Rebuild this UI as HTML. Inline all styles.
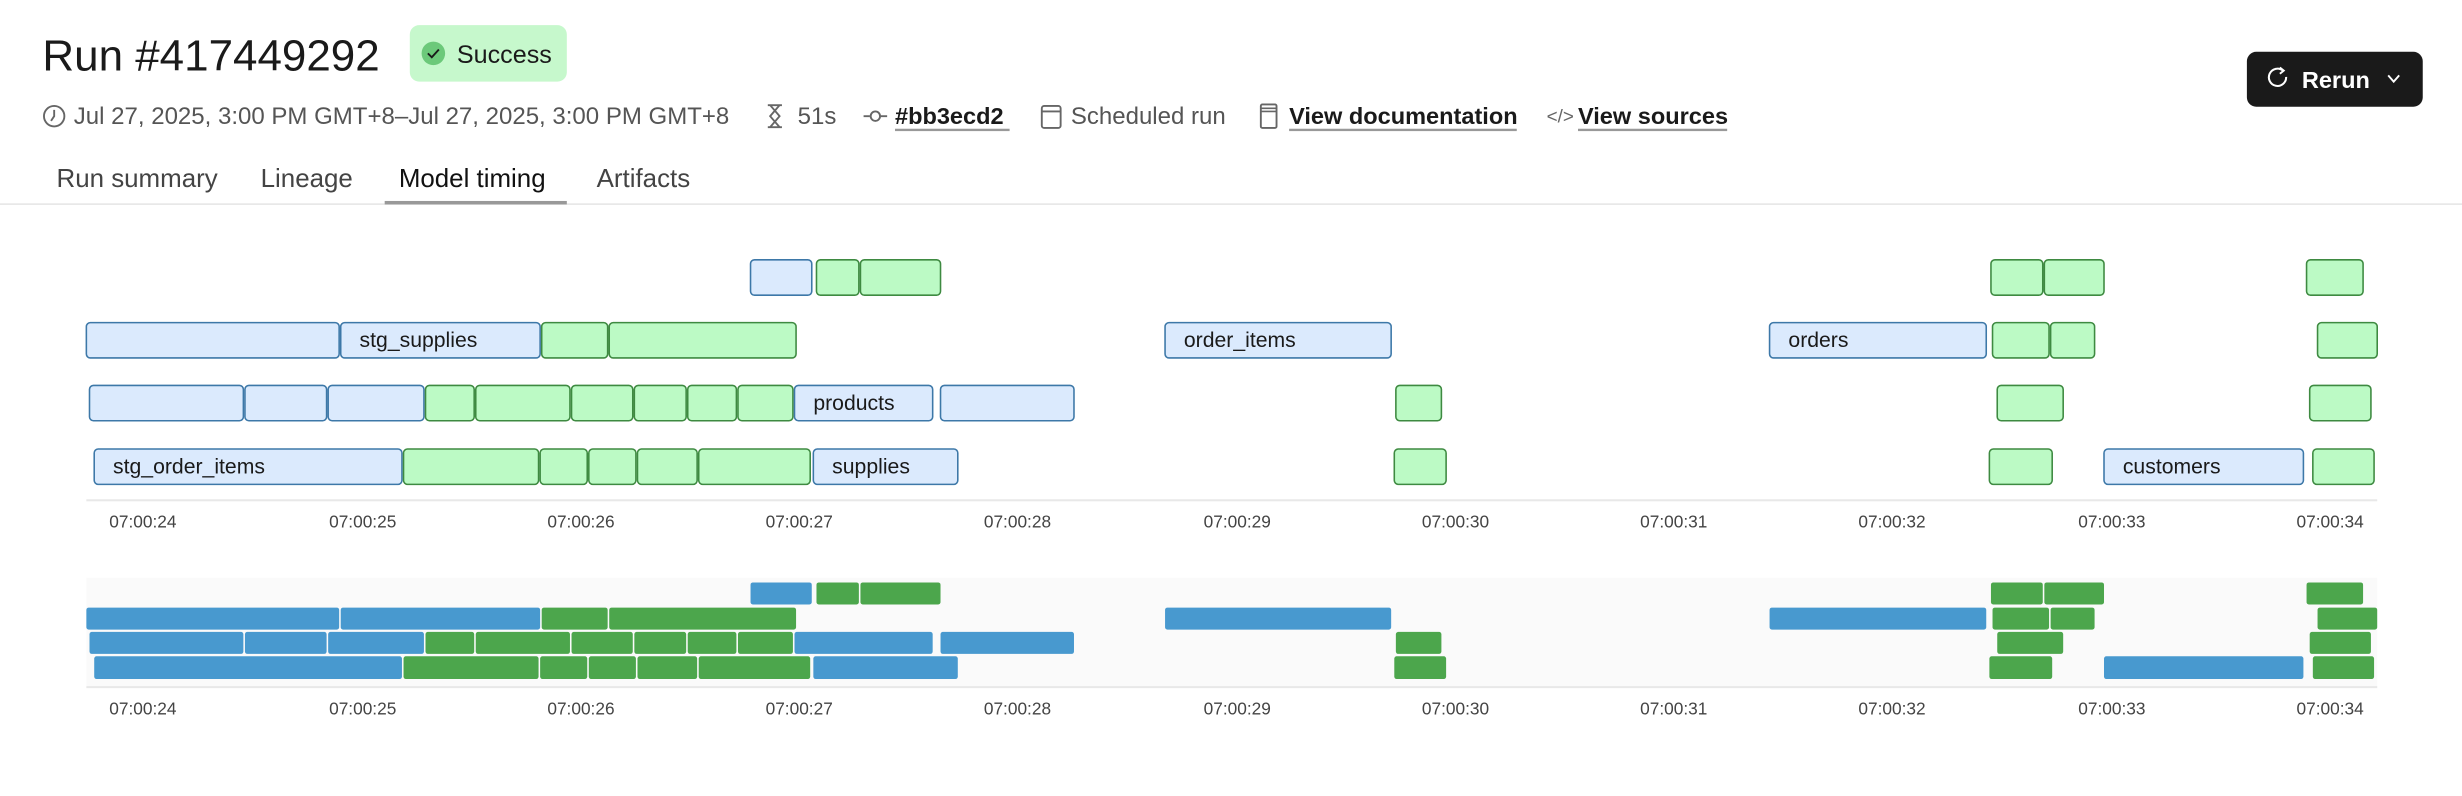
<!DOCTYPE html>
<html><head><meta charset="utf-8"><style>
html,body{margin:0;padding:0;background:#fff;width:2462px;height:796px;overflow:hidden}
svg{display:block}
text{font-family:"Liberation Sans",sans-serif}
.b{fill:#dbeafd;stroke:#3d78a8;stroke-width:1}
.g{fill:#bcfac5;stroke:#3e8a41;stroke-width:1}
.mb{fill:#4899cf}
.mg{fill:#4ca64c}
.lbl{font-size:13.5px;fill:#1a1a1a}
.tk{font-size:11px;fill:#444}
.meta{font-size:15.3px;fill:#555}
.lnk{font-size:15px;fill:#1a1a1a;font-weight:bold}
.tab{font-size:16.5px;fill:#444}
</style></head><body>
<svg width="2462" height="796" viewBox="0 0 1568 507" preserveAspectRatio="none">
<!-- header -->
<text x="27" y="45" font-size="28" fill="#1a1a1a">Run #417449292</text>
<rect x="261" y="16" width="100" height="36" rx="6" fill="#c6f8cc"/>
<circle cx="276" cy="34" r="7.5" fill="#6cc97a"/>
<path d="M272.5 34 l2.5 2.5 l4.5 -5" fill="none" stroke="#1a1a1a" stroke-width="1.2"/>
<text x="291" y="40" font-size="16" fill="#1a1a1a">Success</text>

<circle cx="34.5" cy="74" r="6.5" fill="none" stroke="#666" stroke-width="1.2"/>
<path d="M34.5 70 v4 l-2 3" fill="none" stroke="#666" stroke-width="1.2"/>
<text x="47" y="79" class="meta">Jul 27, 2025, 3:00 PM GMT+8–Jul 27, 2025, 3:00 PM GMT+8</text>
<path d="M489 67 h9 M489 81 h9 M490.5 67 l6 7 l-6 7 M496.5 67 l-6 7 l6 7" fill="none" stroke="#666" stroke-width="1.2"/>
<text x="508" y="79" class="meta">51s</text>
<path d="M550 74 h4 M561 74 h4" stroke="#666" stroke-width="1.2"/>
<circle cx="557.5" cy="74" r="3" fill="none" stroke="#666" stroke-width="1.2"/>
<text x="570" y="79" class="lnk">#bb3ecd2</text>
<rect x="570" y="82" width="73" height="1.5" fill="#999"/>
<rect x="663.5" y="67.5" width="12" height="14" rx="1.5" fill="none" stroke="#666" stroke-width="1.2"/>
<path d="M663.5 71 h12" stroke="#666" stroke-width="1.2"/>
<text x="682" y="79" class="meta">Scheduled run</text>
<rect x="803" y="66.5" width="10" height="15" rx="1" fill="none" stroke="#666" stroke-width="1.2"/>
<path d="M803 69 h10 M803 71 h10" stroke="#666" stroke-width="1"/>
<text x="821" y="79" class="lnk">View documentation</text>
<rect x="821" y="82" width="145" height="1.5" fill="#999"/>
<text x="985" y="78" font-size="12" fill="#666">&lt;/&gt;</text>
<text x="1005" y="79" class="lnk">View sources</text>
<rect x="1005" y="82" width="95" height="1.5" fill="#999"/>

<rect x="1431" y="33" width="112" height="35" rx="6" fill="#1a1a1a"/>
<path d="M1454 45 a5.5 5.5 0 1 0 2 4" fill="none" stroke="#fff" stroke-width="1.3"/>
<path d="M1452 43 l2.5 2 l-2.5 2" fill="none" stroke="#fff" stroke-width="1.2"/>
<text x="1466" y="56" font-size="15" font-weight="bold" fill="#fff">Rerun</text>
<path d="M1521 48 l3.5 4 l3.5 -4" fill="none" stroke="#fff" stroke-width="1.2"/>

<text x="36" y="119" class="tab">Run summary</text>
<text x="166" y="119" class="tab">Lineage</text>
<text x="254" y="119" class="tab" style="fill:#111">Model timing</text>
<text x="380" y="119" class="tab">Artifacts</text>
<rect x="0" y="129.5" width="1568" height="1" fill="#e5e5e5"/>
<rect x="245" y="128" width="116" height="2.2" fill="#999"/>

<!-- main chart -->
<g>
<rect class="b" x="478" y="165.5" width="39" height="22.5" rx="2.5"/>
<rect class="g" x="520" y="165.5" width="27" height="22.5" rx="2.5"/>
<rect class="g" x="548" y="165.5" width="51" height="22.5" rx="2.5"/>
<rect class="g" x="1268" y="165.5" width="33" height="22.5" rx="2.5"/>
<rect class="g" x="1302" y="165.5" width="38" height="22.5" rx="2.5"/>
<rect class="g" x="1469" y="165.5" width="36" height="22.5" rx="2.5"/>

<rect class="b" x="55" y="205.5" width="161" height="22.5" rx="2.5"/>
<rect class="b" x="217" y="205.5" width="127" height="22.5" rx="2.5"/>
<text class="lbl" x="229" y="221">stg_supplies</text>
<rect class="g" x="345" y="205.5" width="42" height="22.5" rx="2.5"/>
<rect class="g" x="388" y="205.5" width="119" height="22.5" rx="2.5"/>
<rect class="b" x="742" y="205.5" width="144" height="22.5" rx="2.5"/>
<text class="lbl" x="754" y="221">order_items</text>
<rect class="b" x="1127" y="205.5" width="138" height="22.5" rx="2.5"/>
<text class="lbl" x="1139" y="221">orders</text>
<rect class="g" x="1269" y="205.5" width="36" height="22.5" rx="2.5"/>
<rect class="g" x="1306" y="205.5" width="28" height="22.5" rx="2.5"/>
<rect class="g" x="1476" y="205.5" width="38" height="22.5" rx="2.5"/>

<rect class="b" x="57" y="245.5" width="98" height="22.5" rx="2.5"/>
<rect class="b" x="156" y="245.5" width="52" height="22.5" rx="2.5"/>
<rect class="b" x="209" y="245.5" width="61" height="22.5" rx="2.5"/>
<rect class="g" x="271" y="245.5" width="31" height="22.5" rx="2.5"/>
<rect class="g" x="303" y="245.5" width="60" height="22.5" rx="2.5"/>
<rect class="g" x="364" y="245.5" width="39" height="22.5" rx="2.5"/>
<rect class="g" x="404" y="245.5" width="33" height="22.5" rx="2.5"/>
<rect class="g" x="438" y="245.5" width="31" height="22.5" rx="2.5"/>
<rect class="g" x="470" y="245.5" width="35" height="22.5" rx="2.5"/>
<rect class="b" x="506" y="245.5" width="88" height="22.5" rx="2.5"/>
<text class="lbl" x="518" y="261">products</text>
<rect class="b" x="599" y="245.5" width="85" height="22.5" rx="2.5"/>
<rect class="g" x="889" y="245.5" width="29" height="22.5" rx="2.5"/>
<rect class="g" x="1272" y="245.5" width="42" height="22.5" rx="2.5"/>
<rect class="g" x="1471" y="245.5" width="39" height="22.5" rx="2.5"/>

<rect class="b" x="60" y="286" width="196" height="22.5" rx="2.5"/>
<text class="lbl" x="72" y="301.5">stg_order_items</text>
<rect class="g" x="257" y="286" width="86" height="22.5" rx="2.5"/>
<rect class="g" x="344" y="286" width="30" height="22.5" rx="2.5"/>
<rect class="g" x="375" y="286" width="30" height="22.5" rx="2.5"/>
<rect class="g" x="406" y="286" width="38" height="22.5" rx="2.5"/>
<rect class="g" x="445" y="286" width="71" height="22.5" rx="2.5"/>
<rect class="b" x="518" y="286" width="92" height="22.5" rx="2.5"/>
<text class="lbl" x="530" y="301.5">supplies</text>
<rect class="g" x="888" y="286" width="33" height="22.5" rx="2.5"/>
<rect class="g" x="1267" y="286" width="40" height="22.5" rx="2.5"/>
<rect class="b" x="1340" y="286" width="127" height="22.5" rx="2.5"/>
<text class="lbl" x="1352" y="301.5">customers</text>
<rect class="g" x="1473" y="286" width="39" height="22.5" rx="2.5"/>

<rect x="55" y="318" width="1459" height="1.3" fill="#e8e8e8"/>
<g text-anchor="middle">
<text x="91" y="336" class="tk">07:00:24</text><text x="231" y="336" class="tk">07:00:25</text><text x="370" y="336" class="tk">07:00:26</text><text x="509" y="336" class="tk">07:00:27</text><text x="648" y="336" class="tk">07:00:28</text><text x="788" y="336" class="tk">07:00:29</text><text x="927" y="336" class="tk">07:00:30</text><text x="1066" y="336" class="tk">07:00:31</text><text x="1205" y="336" class="tk">07:00:32</text><text x="1345" y="336" class="tk">07:00:33</text><text x="1484" y="336" class="tk">07:00:34</text>
</g>
</g>

<!-- minimap -->
<rect x="55" y="368" width="1459" height="69" fill="#fafafa"/>
<g>
<rect class="mb" x="478" y="371" width="39" height="14" rx="1.5"/>
<rect class="mg" x="520" y="371" width="27" height="14" rx="1.5"/>
<rect class="mg" x="548" y="371" width="51" height="14" rx="1.5"/>
<rect class="mg" x="1268" y="371" width="33" height="14" rx="1.5"/>
<rect class="mg" x="1302" y="371" width="38" height="14" rx="1.5"/>
<rect class="mg" x="1469" y="371" width="36" height="14" rx="1.5"/>

<rect class="mb" x="55" y="387" width="161" height="14" rx="1.5"/>
<rect class="mb" x="217" y="387" width="127" height="14" rx="1.5"/>
<rect class="mg" x="345" y="387" width="42" height="14" rx="1.5"/>
<rect class="mg" x="388" y="387" width="119" height="14" rx="1.5"/>
<rect class="mb" x="742" y="387" width="144" height="14" rx="1.5"/>
<rect class="mb" x="1127" y="387" width="138" height="14" rx="1.5"/>
<rect class="mg" x="1269" y="387" width="36" height="14" rx="1.5"/>
<rect class="mg" x="1306" y="387" width="28" height="14" rx="1.5"/>
<rect class="mg" x="1476" y="387" width="38" height="14" rx="1.5"/>

<rect class="mb" x="57" y="402.5" width="98" height="14" rx="1.5"/>
<rect class="mb" x="156" y="402.5" width="52" height="14" rx="1.5"/>
<rect class="mb" x="209" y="402.5" width="61" height="14" rx="1.5"/>
<rect class="mg" x="271" y="402.5" width="31" height="14" rx="1.5"/>
<rect class="mg" x="303" y="402.5" width="60" height="14" rx="1.5"/>
<rect class="mg" x="364" y="402.5" width="39" height="14" rx="1.5"/>
<rect class="mg" x="404" y="402.5" width="33" height="14" rx="1.5"/>
<rect class="mg" x="438" y="402.5" width="31" height="14" rx="1.5"/>
<rect class="mg" x="470" y="402.5" width="35" height="14" rx="1.5"/>
<rect class="mb" x="506" y="402.5" width="88" height="14" rx="1.5"/>
<rect class="mb" x="599" y="402.5" width="85" height="14" rx="1.5"/>
<rect class="mg" x="889" y="402.5" width="29" height="14" rx="1.5"/>
<rect class="mg" x="1272" y="402.5" width="42" height="14" rx="1.5"/>
<rect class="mg" x="1471" y="402.5" width="39" height="14" rx="1.5"/>

<rect class="mb" x="60" y="418" width="196" height="14.5" rx="1.5"/>
<rect class="mg" x="257" y="418" width="86" height="14.5" rx="1.5"/>
<rect class="mg" x="344" y="418" width="30" height="14.5" rx="1.5"/>
<rect class="mg" x="375" y="418" width="30" height="14.5" rx="1.5"/>
<rect class="mg" x="406" y="418" width="38" height="14.5" rx="1.5"/>
<rect class="mg" x="445" y="418" width="71" height="14.5" rx="1.5"/>
<rect class="mb" x="518" y="418" width="92" height="14.5" rx="1.5"/>
<rect class="mg" x="888" y="418" width="33" height="14.5" rx="1.5"/>
<rect class="mg" x="1267" y="418" width="40" height="14.5" rx="1.5"/>
<rect class="mb" x="1340" y="418" width="127" height="14.5" rx="1.5"/>
<rect class="mg" x="1473" y="418" width="39" height="14.5" rx="1.5"/>
</g>
<rect x="55" y="437" width="1459" height="1.3" fill="#e8e8e8"/>
<g text-anchor="middle">
<text x="91" y="455" class="tk">07:00:24</text><text x="231" y="455" class="tk">07:00:25</text><text x="370" y="455" class="tk">07:00:26</text><text x="509" y="455" class="tk">07:00:27</text><text x="648" y="455" class="tk">07:00:28</text><text x="788" y="455" class="tk">07:00:29</text><text x="927" y="455" class="tk">07:00:30</text><text x="1066" y="455" class="tk">07:00:31</text><text x="1205" y="455" class="tk">07:00:32</text><text x="1345" y="455" class="tk">07:00:33</text><text x="1484" y="455" class="tk">07:00:34</text>
</g>
</svg>
</body></html>
